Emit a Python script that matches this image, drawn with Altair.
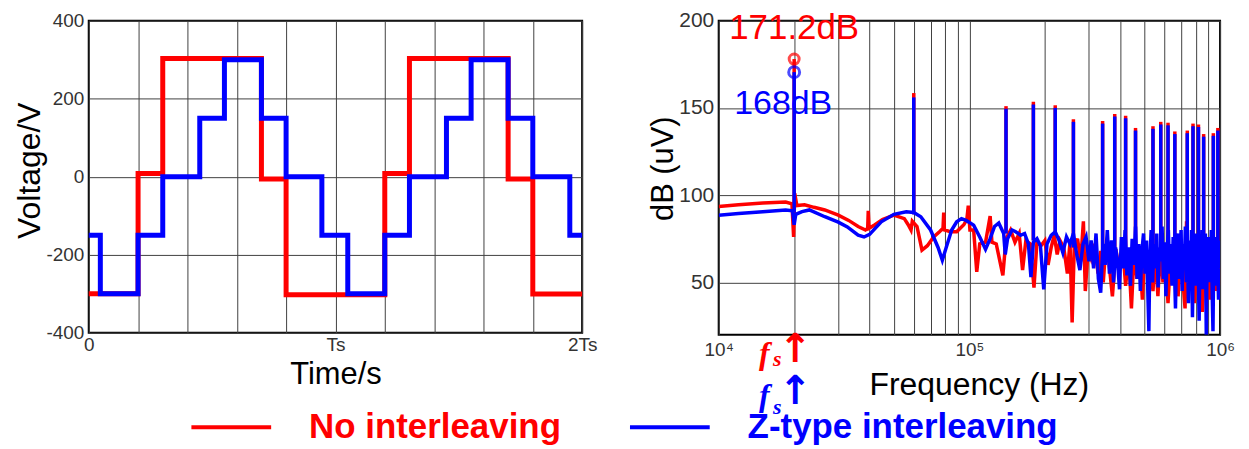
import altair as alt
import pandas as pd

# ---------------- data: time domain (time in multiples of Ts) ----------------
t_no = [0, 0.2, 0.3, 0.7, 0.8, 1.2, 1.3, 1.7, 1.8, 2.0]
v_no = [-300, 8, 303, -6, -303, 8, 303, -6, -301, -301]
t_z = [0, 0.047, 0.2, 0.3, 0.45, 0.55, 0.7, 0.8, 0.945, 1.05, 1.2, 1.3, 1.45, 1.55, 1.7, 1.8, 1.95, 2.0]
v_z = [-150, -300, -150, 0, 150, 300, 150, 0, -150, -300, -150, 0, 150, 300, 150, 0, -150, -150]

time_ticks = [0, 0.2, 0.4, 0.6, 0.8, 1.0, 1.2, 1.4, 1.6, 1.8, 2.0]
time_tick_values = [0, 1, 2]
time_tick_labels = ["0", "Ts", "2Ts"]
volt_ticks = [-400, -300, -200, -100, 0, 100, 200, 300, 400]
volt_labeled = [-400, -200, 0, 200, 400]

# ---------------- data: spectrum (frequency in kHz, level in dB(uV)) ----------------
f_no = [10, 12, 15, 18.5, 19.6, 19.9, 20.1, 20.5, 22, 24,
        26.5, 30, 33, 36, 38.5, 39.3, 39.5, 39.8, 42, 45,
        50, 55, 57, 58.5, 59.2, 61.8, 64.7, 68, 72, 76,
        78.5, 79, 79.5, 84, 89, 95, 97.7, 99, 100.5, 104,
        107, 110, 116, 121, 123, 128, 136, 140, 146, 152,
        158, 163, 168, 175, 181, 186, 193, 200, 206, 212,
        218, 224, 230, 238, 246, 252, 257, 262, 270, 278,
        285, 290, 298, 306, 316, 326, 334, 342, 350, 360,
        372, 384, 396, 408, 420, 432, 443, 455, 466, 478,
        490, 502, 515, 528, 540, 552, 565, 578, 592, 606,
        620, 636, 650, 665, 680, 695, 710, 725, 735, 745,
        760, 775, 790, 805, 820, 836, 850, 866, 880, 895,
        910, 925, 940, 955, 970, 985, 1000]
db_no = [93.5, 94.5, 95.5, 96, 95, 76, 101, 94, 94.5, 93,
         91.5, 88.5, 85.5, 82, 80, 81, 91, 81, 83, 86,
         88.5, 86.5, 83, 80, 85, 82, 68.5, 71, 76, 79,
         81, 90, 80, 79, 79, 83, 86, 94, 80, 80,
         56, 72, 73, 88, 73, 72, 54, 75, 80, 73,
         78, 57, 74, 72, 47, 73, 71, 74, 60, 70,
         77, 66, 74, 70, 55, 73, 27, 70, 75, 62,
         85, 45, 70, 64, 72, 55, 68, 50, 70, 62,
         42, 69, 57, 72, 48, 66, 35, 70, 52, 66,
         40, 72, 58, 64, 45, 68, 42, 70, 50, 62,
         38, 67, 55, 72, 42, 64, 52, 35, 85, 60,
         48, 66, 38, 62, 50, 72, 33, 60, 45, 68,
         40, 63, 50, 70, 45, 62, 48]

f_z = [10, 12, 15, 18.5, 19.7, 20, 20.3, 21.5, 23, 26.5,
       30, 32.6, 36, 38, 40, 44.5, 50, 56, 60, 64,
       70, 75, 78, 81, 85, 89, 93, 97, 104, 110,
       116, 121, 126, 131, 137, 139, 142, 148, 153, 160,
       166, 172, 176, 180, 186, 192, 198, 204, 212, 220,
       228, 236, 244, 252, 260, 268, 276, 284, 292, 300,
       306, 313, 320, 327, 334, 341, 348, 355, 362, 369,
       376, 383, 390, 397, 404, 411, 418, 425, 432, 439,
       446, 453, 460, 467, 474, 481, 488, 495, 502, 509,
       516, 520, 524, 531, 538, 545, 552, 559, 566, 573,
       580, 587, 594, 601, 608, 615, 622, 629, 636, 643,
       650, 657, 664, 671, 678, 685, 692, 699, 706, 713,
       720, 727, 734, 741, 748, 755, 762, 769, 776, 783,
       790, 797, 804, 811, 818, 825, 832, 839, 846, 853,
       860, 867, 874, 881, 888, 895, 902, 909, 916, 923,
       930, 937, 944, 951, 958, 965, 972, 979, 986, 993,
       1000]
db_z = [88.5, 89.5, 90.5, 91.5, 91, 83, 89, 90.5, 91.5, 87.6,
        84.5, 81.8, 77, 76, 77.5, 84.7, 89, 90.5, 90, 87.6,
        80, 70, 62.7, 70.4, 80, 84.7, 86.5, 85.5, 82.8, 76,
        69, 75, 82, 84, 78, 66, 75, 80, 79, 77,
        78, 72, 53, 73, 75, 71, 46, 72, 77, 79,
        74, 67, 76, 72, 78, 66, 57, 72, 76, 62,
        74, 58, 78, 52, 44, 72, 60, 80, 55, 74,
        50, 70, 62, 46, 76, 58, 80, 54, 70, 48,
        75, 60, 82, 52, 72, 45, 68, 78, 55, 74,
        40, 22, 60, 80, 50, 72, 58, 78, 47, 70,
        62, 82, 52, 73, 42, 68, 80, 55, 72, 48,
        76, 60, 35, 70, 78, 52, 66, 80, 45, 72,
        58, 82, 50, 68, 38, 74, 56, 80, 30, 70,
        58, 78, 48, 74, 60, 28, 72, 54, 80, 46,
        70, 60, 78, 20, 66, 76, 50, 72, 58, 80,
        44, 22, 70, 56, 76, 48, 72, 60, 40, 74,
        58]

# harmonic peaks (kHz) and their levels
h_f = [20, 60, 140, 180, 220, 260, 340, 380, 420, 460, 540, 580, 620, 660, 740, 780, 820, 860, 940, 980]
h_no = [178, 158.5, 151, 153.5, 151.5, 143.5, 142.5, 146.5, 145.5, 138.5, 139.5, 142, 141.5, 136.5, 137, 141, 140.5, 135, 135.5, 138.5]
h_z = [170.5, 156, 149.5, 152, 150, 142, 141, 145, 144, 137, 138, 140.5, 140, 135, 135.5, 139.5, 139, 133.5, 134, 137]
h_base = [90, 89, 78, 74, 77, 70, 68, 68, 66, 66, 64, 64, 64, 64, 64, 64, 64, 64, 64, 64]

fs_khz = 20
peak_marks = [178, 170.5]
peak_labels = ["171.2dB", "168dB"]
freq_ticks = [10000, 20000, 30000, 40000, 50000, 60000, 70000, 80000, 90000,
              100000, 200000, 300000, 400000, 500000, 600000, 700000, 800000, 900000, 1000000]
freq_label_values = [10000, 100000, 1000000]
freq_labels = ["10\u2074", "10\u2075", "10\u2076"]
db_ticks = [50, 100, 150, 200]

legend_labels = ["No interleaving", "Z-type interleaving"]
RED = "#ff0000"
BLUE = "#0000ff"
FONT = "Liberation Sans"

# ---------------- left: time-domain ----------------
def make_expr(vals, labs):
    s = "''"
    for v, l in reversed(list(zip(vals, labs))):
        s = f"datum.value == {v} ? '{l}' : ({s})"
    return s

df_no = pd.DataFrame({"t": t_no, "v": v_no})
df_z = pd.DataFrame({"t": t_z, "v": v_z})

xL = alt.X("t:Q", scale=alt.Scale(domain=[0, 2], nice=False, zero=False),
           axis=alt.Axis(values=time_ticks, labelExpr=make_expr(time_tick_values, time_tick_labels),
                         title="Time/s", titleFontSize=31, titleY=51, titleBaseline="alphabetic",
                         labelFontSize=19, labelPadding=3, labelFlush=False))
yL = alt.Y("v:Q", scale=alt.Scale(domain=[-400, 400], nice=False),
           axis=alt.Axis(values=volt_ticks,
                         labelExpr="indexof(" + str(volt_labeled) + ", datum.value) >= 0 ? '' + datum.value : ''",
                         title="Voltage/V", titleFontSize=32, titleX=-49, titleY=150,
                         titleBaseline="alphabetic", labelFontSize=19, labelPadding=5, labelFlush=False))

line_no = alt.Chart(df_no).mark_line(interpolate="step-after", color=RED, strokeWidth=5).encode(x=xL, y=yL)
line_z = alt.Chart(df_z).mark_line(interpolate="step-after", color=BLUE, strokeWidth=5).encode(x="t:Q", y="v:Q")

leg_rule_no = alt.Chart(pd.DataFrame({"k": [0]})).mark_rule(color=RED, strokeWidth=4).encode(
    x=alt.value(103), x2=alt.value(183), y=alt.value(408))
leg_rule_z = alt.Chart(pd.DataFrame({"k": [0]})).mark_rule(color=BLUE, strokeWidth=4).encode(
    x=alt.value(543), x2=alt.value(623), y=alt.value(408))
leg_txt_no = alt.Chart(pd.DataFrame({"label": [legend_labels[0]]})).mark_text(
    color=RED, font=FONT, fontSize=35, fontWeight="bold", align="left", baseline="middle").encode(
    text="label:N", x=alt.value(221), y=alt.value(408))
leg_txt_z = alt.Chart(pd.DataFrame({"label": [legend_labels[1]]})).mark_text(
    color=BLUE, font=FONT, fontSize=35, fontWeight="bold", align="left", baseline="middle").encode(
    text="label:N", x=alt.value(661), y=alt.value(408))

left = alt.layer(line_no, line_z, leg_rule_no, leg_rule_z, leg_txt_no, leg_txt_z).properties(
    width=495, height=313, view=alt.ViewBackground(stroke="black", strokeWidth=2))

# ---------------- right: spectrum ----------------
df_sno = pd.DataFrame({"f": [k * 1000 for k in f_no], "db": db_no})
df_sz = pd.DataFrame({"f": [k * 1000 for k in f_z], "db": db_z})
df_h = pd.DataFrame({"f": [k * 1000 for k in h_f], "no": h_no, "z": h_z, "base": h_base})

xR = alt.X("f:Q", scale=alt.Scale(type="log", domain=[10000, 1000000], nice=False),
           axis=alt.Axis(values=freq_ticks, labelExpr=make_expr(freq_label_values, freq_labels),
                         title="Frequency (Hz)", titleFontSize=32, titleX=261, titleY=60,
                         titleBaseline="alphabetic", labelFontSize=19, labelPadding=6, labelFlush=False))
yR = alt.Y("db:Q", scale=alt.Scale(domain=[20, 200], nice=False, zero=False),
           axis=alt.Axis(values=db_ticks, title="dB (uV)", titleFontSize=31, titleX=-46, titleY=148,
                         titleBaseline="alphabetic", labelFontSize=21, labelPadding=5, labelFlush=False))

s_no = alt.Chart(df_sno).mark_line(color=RED, strokeWidth=3.5, clip=True).encode(x=xR, y=yR)
h_no_r = alt.Chart(df_h).mark_rule(color=RED, strokeWidth=3.5).encode(x="f:Q", y=alt.Y("no:Q"), y2="base:Q")
s_z = alt.Chart(df_sz).mark_line(color=BLUE, strokeWidth=3.5, clip=True).encode(x="f:Q", y="db:Q")
h_z_r = alt.Chart(df_h).mark_rule(color=BLUE, strokeWidth=3.5).encode(x="f:Q", y=alt.Y("z:Q"), y2="base:Q")

circ_no = alt.Chart(pd.DataFrame({"k": [0]})).mark_point(shape="circle", filled=False, color=RED, size=100, strokeWidth=3).encode(
    x=alt.datum(fs_khz * 1000), y=alt.datum(peak_marks[0]))
circ_z = alt.Chart(pd.DataFrame({"k": [0]})).mark_point(shape="circle", filled=False, color=BLUE, size=120, strokeWidth=3).encode(
    x=alt.datum(fs_khz * 1000), y=alt.datum(peak_marks[1]))
lab_no = alt.Chart(pd.DataFrame({"label": [peak_labels[0]]})).mark_text(
    color=RED, font=FONT, fontSize=35, baseline="middle", align="center").encode(
    text="label:N", x=alt.datum(fs_khz * 1000), y=alt.datum(196))
lab_z = alt.Chart(pd.DataFrame({"label": [peak_labels[1]]})).mark_text(
    color=BLUE, font=FONT, fontSize=34, baseline="middle", align="center", dx=-11).encode(
    text="label:N", x=alt.datum(fs_khz * 1000), y=alt.datum(152))

def fs_marker(color, y_f, y_s, y_arrow):
    f_t = alt.Chart(pd.DataFrame({"t": ["f"]})).mark_text(
        color=color, font="Liberation Serif", fontStyle="italic", fontWeight="bold", fontSize=32,
        baseline="middle", align="center", dx=-30).encode(text="t:N", x=alt.datum(fs_khz * 1000), y=alt.value(y_f))
    s_t = alt.Chart(pd.DataFrame({"t": ["s"]})).mark_text(
        color=color, font="Liberation Serif", fontStyle="italic", fontWeight="bold", fontSize=22,
        baseline="middle", align="center", dx=-17).encode(text="t:N", x=alt.datum(fs_khz * 1000), y=alt.value(y_s))
    a_t = alt.Chart(pd.DataFrame({"t": ["\u2191"]})).mark_text(
        color=color, font="DejaVu Sans", fontWeight="bold", fontSize=40,
        baseline="middle", align="center", dx=1).encode(text="t:N", x=alt.datum(fs_khz * 1000), y=alt.value(y_arrow))
    return [f_t, s_t, a_t]

right = alt.layer(s_no, h_no_r, s_z, h_z_r, circ_no, circ_z, lab_no, lab_z,
                  *fs_marker(RED, 334, 339, 330), *fs_marker(BLUE, 377, 388, 373)).properties(
    width=503, height=315, view=alt.ViewBackground(stroke="black", strokeWidth=2))

chart = alt.hconcat(left, right, spacing=137, bounds="flush").properties(
    padding={"left": 4, "top": 0, "right": 5, "bottom": 0}
).configure_axis(
    labelFont=FONT, titleFont=FONT, titleFontWeight="normal", titleColor="black",
    labelColor="#333333", gridColor="#404040", gridWidth=1, gridOpacity=1,
    ticks=False, domain=False
)

chart.save("out.html", embed_options={"renderer": "svg", "actions": False})
